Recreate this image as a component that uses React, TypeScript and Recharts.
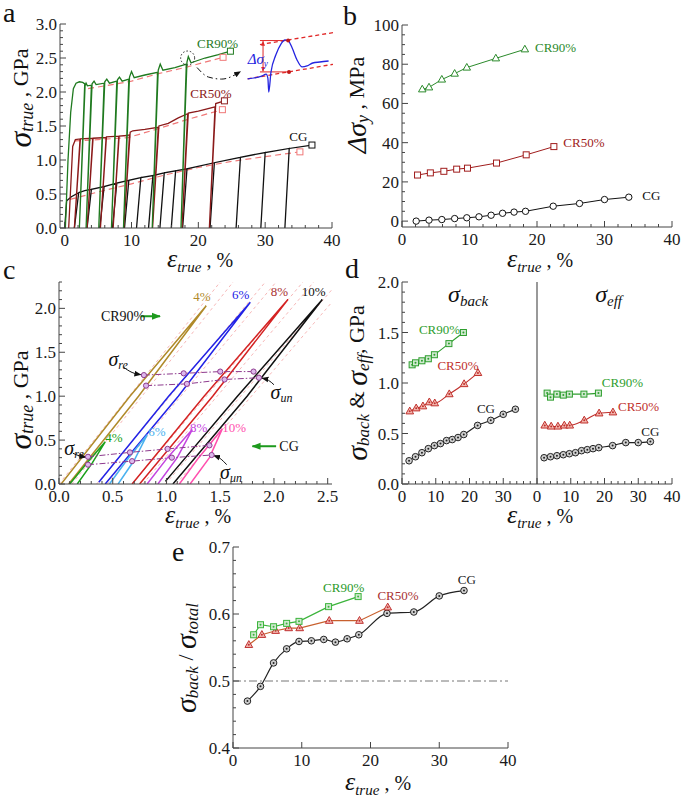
import React from "react";
import { ComposedChart, Line, XAxis, YAxis, ReferenceLine, ReferenceDot } from "recharts";

type Pt = [number, number];

const FONT = '"Liberation Serif", "Times New Roman", serif';

// ---------- shared strain positions of the unloading points (%) ----------
const X_CG = [2.1, 4.0, 5.9, 7.8, 9.6, 11.4, 13.2, 14.9, 16.6, 18.3, 22.4, 26.3, 30.0, 33.6];
const X_CR50 = [2.3, 4.2, 6.2, 8.1, 9.7, 14.0, 18.4, 22.5];
const X_CR90 = [3.0, 4.0, 5.9, 7.8, 9.6, 13.9, 18.2];

// ---------- panel a: loading / unloading curves ----------
const A_CG: Pt[] = [
  [0, 0], [0.3, 0.4], [1.0, 0.46], [2.1, 0.52], [1.45, 0], [2.1, 0.52],
  [3.0, 0.55], [4.0, 0.57], [3.35, 0], [4.0, 0.57],
  [5.9, 0.61], [5.25, 0], [5.9, 0.61],
  [7.8, 0.66], [7.15, 0], [7.8, 0.66],
  [9.6, 0.7], [8.95, 0], [9.6, 0.7],
  [11.4, 0.74], [10.75, 0], [11.4, 0.74],
  [13.2, 0.77], [12.55, 0], [13.2, 0.77],
  [14.9, 0.81], [14.25, 0], [14.9, 0.81],
  [16.6, 0.84], [15.95, 0], [16.6, 0.84],
  [18.3, 0.87], [17.65, 0], [18.3, 0.87],
  [22.4, 0.96], [21.75, 0], [22.4, 0.96],
  [26.3, 1.04], [25.65, 0], [26.3, 1.04],
  [30.0, 1.11], [29.35, 0], [30.0, 1.11],
  [33.6, 1.17], [32.95, 0], [33.6, 1.17],
  [37.0, 1.22],
];
const A_CR50: Pt[] = [
  [0.6, 0], [1.2, 1.2], [1.6, 1.3], [2.3, 1.31], [1.45, 0], [2.35, 1.31],
  [4.2, 1.32], [3.35, 0], [4.25, 1.32],
  [6.2, 1.33], [5.35, 0], [6.25, 1.34],
  [8.1, 1.35], [7.25, 0], [8.15, 1.35], [9.3, 1.36], [9.7, 1.37],
  [8.85, 0], [9.8, 1.41], [10.2, 1.43], [12.0, 1.45], [14.0, 1.48],
  [13.15, 0], [14.1, 1.5], [15.5, 1.54], [17.0, 1.62], [18.4, 1.68],
  [17.55, 0], [18.5, 1.69], [20.0, 1.72], [22.5, 1.78],
  [21.65, 0], [22.6, 1.83], [23.9, 1.87],
];
const A_CR90: Pt[] = [
  [0.1, 0], [0.5, 1.0], [0.9, 1.7], [1.3, 2.05], [1.7, 2.13], [2.2, 2.15], [2.7, 2.14], [3.0, 2.12],
  [2.2, 0], [3.05, 2.09], [3.2, 2.13], [3.4, 2.09], [4.0, 2.1],
  [3.2, 0], [4.1, 2.12], [4.4, 2.16], [4.7, 2.11], [5.9, 2.13],
  [5.1, 0], [6.0, 2.15], [6.3, 2.19], [6.7, 2.13], [7.8, 2.16],
  [7.0, 0], [7.9, 2.18], [8.2, 2.22], [8.6, 2.16], [9.6, 2.19],
  [8.8, 0], [9.7, 2.22], [10.0, 2.3], [10.4, 2.21], [12.0, 2.25], [13.9, 2.29],
  [13.1, 0], [14.0, 2.32], [14.3, 2.41], [14.7, 2.32], [16.5, 2.36], [18.2, 2.41],
  [17.4, 0], [18.3, 2.44], [18.5, 2.52], [18.9, 2.43], [21.0, 2.5], [23.0, 2.55], [24.8, 2.6],
];
const A_CG_FIT: Pt[] = [[0.8, 0.42], [5, 0.53], [10, 0.65], [15, 0.78], [20, 0.89], [25, 0.98], [30, 1.05], [35.2, 1.12]];
const A_CR50_FIT: Pt[] = [[1.5, 1.28], [5, 1.3], [9.5, 1.33], [14, 1.46], [18.5, 1.6], [23.6, 1.74]];
const A_CR90_FIT: Pt[] = [[3.5, 2.05], [6, 2.09], [10, 2.16], [14, 2.27], [18, 2.36], [23.7, 2.51]];
const A_POINTER: Pt[] = [[19.8, 2.36], [21.5, 2.22], [23.5, 2.19], [26.3, 2.3]];

// inset sketch (arbitrary 0-100 units)
const IN_BLUE: Pt[] = [
  [3, 26], [19, 30], [24, 33], [26, 27], [27, 6], [29.5, 36], [35, 62], [41, 79], [45.5, 85],
  [49, 84], [53.5, 73], [59, 55], [65, 44], [70.5, 45.5], [77, 50], [85, 51.5], [95, 53],
];
const IN_UPPER: Pt[] = [[17, 78], [100, 96]];
const IN_LOWER: Pt[] = [[3, 26], [100, 48]];
const IN_TOP: Pt[] = [[17, 84], [49, 84]];
const IN_BOTTOM: Pt[] = [[17, 36.5], [50, 36.5]];
const IN_SPAN: Pt[] = [[20.5, 37.5], [20.5, 83]];

// ---------- panel b: yield drop, MPa ----------
const DSY_CG = [0, 0.5, 0.8, 1.3, 1.7, 2.2, 3.0, 4.0, 4.6, 5.0, 7.6, 9.0, 11.0, 12.2];
const DSY_CR50 = [23.5, 24.6, 25.4, 26.5, 27.0, 29.6, 33.8, 38.0];
const DSY_CR90 = [67.2, 68.2, 72.2, 75.2, 78.3, 83.0, 87.6];

// ---------- panel c: hysteresis loops ----------
const C_LOOP4: Pt[] = [[0.02, 0], [0.66, 1.0], [1.37, 2.03], [0.74, 1.0], [0.09, 0]];
const C_LOOP6: Pt[] = [[0.37, 0.02], [1.02, 1.0], [1.78, 2.07], [1.11, 1.0], [0.43, 0]];
const C_LOOP8: Pt[] = [[0.68, 0], [1.35, 1.0], [2.13, 2.1], [1.43, 1.0], [0.75, 0]];
const C_LOOP10: Pt[] = [[0.99, 0.03], [1.66, 1.0], [2.45, 2.1], [1.75, 1.0], [1.06, 0]];
const C_CG4: Pt[] = [[0.1, 0], [0.26, 0.24], [0.43, 0.48], [0.31, 0.24], [0.17, 0]];
const C_CG6: Pt[] = [[0.47, 0], [0.63, 0.27], [0.82, 0.56], [0.7, 0.27], [0.55, 0]];
const C_CG8: Pt[] = [[0.82, 0], [1.01, 0.3], [1.24, 0.62], [1.1, 0.3], [0.92, 0]];
const C_CG10: Pt[] = [[1.12, 0], [1.3, 0.3], [1.52, 0.63], [1.4, 0.3], [1.22, 0]];
const C_GUIDES: Pt[][] = [
  [[0.0, 0], [1.5, 2.3]], [[0.12, 0], [1.62, 2.3]],
  [[0.35, 0], [1.92, 2.3]], [[0.45, 0], [2.02, 2.3]],
  [[0.68, 0], [2.27, 2.3]], [[0.78, 0], [2.37, 2.3]],
  [[0.99, 0], [2.6, 2.3]], [[1.09, 0], [2.7, 2.3]],
];
const C_RE90: Pt[] = [[0.79, 1.24], [1.16, 1.26], [1.5, 1.28], [1.81, 1.28]];
const C_UN90: Pt[] = [[0.81, 1.12], [1.19, 1.14], [1.54, 1.19], [1.86, 1.21]];
const C_RECG: Pt[] = [[0.27, 0.31], [0.66, 0.36], [1.01, 0.4], [1.4, 0.44]];
const C_UNCG: Pt[] = [[0.27, 0.22], [0.68, 0.26], [1.05, 0.3], [1.42, 0.33]];
const C_ARROW_CR90: Pt[] = [[0.76, 1.91], [0.94, 1.91]];
const C_ARROW_CG: Pt[] = [[2.02, 0.43], [1.8, 0.43]];
const C_PTR_RE_HI: Pt[] = [[0.6, 1.33], [0.68, 1.27], [0.76, 1.245]];
const C_PTR_RE_LO: Pt[] = [[0.13, 0.35], [0.19, 0.32], [0.25, 0.305]];
const C_PTR_UN_HI: Pt[] = [[2.0, 1.13], [1.95, 1.18], [1.89, 1.205]];
const C_PTR_UN_LO: Pt[] = [[1.56, 0.22], [1.5, 0.29], [1.44, 0.325]];

// ---------- panel d: back / effective stress, GPa ----------
const BACK_CG = [0.23, 0.27, 0.31, 0.35, 0.38, 0.4, 0.43, 0.44, 0.46, 0.49, 0.58, 0.63, 0.69, 0.74];
const BACK_CR50 = [0.72, 0.75, 0.77, 0.81, 0.8, 0.89, 0.99, 1.1];
const BACK_CR90 = [1.18, 1.2, 1.22, 1.24, 1.28, 1.39, 1.5];
const EFF_CG = [0.26, 0.27, 0.28, 0.29, 0.3, 0.31, 0.33, 0.34, 0.35, 0.36, 0.38, 0.41, 0.41, 0.42];
const EFF_CR50 = [0.58, 0.57, 0.57, 0.58, 0.58, 0.63, 0.7, 0.71];
const EFF_CR90 = [0.9, 0.86, 0.89, 0.88, 0.89, 0.89, 0.9];

// ---------- panel e: back stress ratio ----------
const RATIO_CG = [0.47, 0.492, 0.527, 0.548, 0.559, 0.56, 0.562, 0.558, 0.563, 0.569, 0.601, 0.603, 0.627, 0.635];
const RATIO_CR50 = [0.554, 0.569, 0.575, 0.579, 0.579, 0.59, 0.59, 0.61];
const RATIO_CR90 = [0.569, 0.584, 0.581, 0.586, 0.589, 0.611, 0.626];

// ---------- helpers ----------
const rows = (a: Pt[]) => a.map(([x, y]) => ({ x, y }));
const zip = (xs: number[], ys: number[], shift = 0) => xs.map((x, i) => ({ x: x + shift, y: ys[i] }));
const seq = (a: number, b: number, s: number) => {
  const r: number[] = [];
  for (let i = 0; a + i * s <= b + 1e-9; i++) r.push(Math.round((a + i * s) * 1000) / 1000);
  return r;
};
const has = (arr: number[], v: number) => arr.some((m) => Math.abs(m - v) < 1e-6);

function tickFn(side: string, major: number[], fmt: (v: number) => string) {
  return (p: any) => {
    const v = p.payload.value;
    const big = has(major, v);
    const n = big ? 6 : 3;
    const { x, y } = p;
    let line;
    let label = null;
    if (side === "bottom") {
      line = <line x1={x} x2={x} y1={y} y2={y - n} />;
      if (big) label = <text x={x} y={y + 18} textAnchor="middle">{fmt(v)}</text>;
    } else if (side === "top") {
      line = <line x1={x} x2={x} y1={y} y2={y + n} />;
    } else if (side === "left") {
      line = <line x1={x} x2={x + n} y1={y} y2={y} />;
      if (big) label = <text x={x - 3} y={y + 6} textAnchor="end">{fmt(v)}</text>;
    } else {
      line = <line x1={x} x2={x - n} y1={y} y2={y} />;
    }
    return (
      <g key={`${side}-${v}`}>
        <g stroke="#444" strokeWidth={1}>{line}</g>
        {label && <g fill="#1a1a1a" fontSize={17} fontFamily={FONT}>{label}</g>}
      </g>
    );
  };
}

interface FrameOpts {
  xd: [number, number];
  yd: [number, number];
  xMaj: number[];
  xMin: number[];
  yMaj: number[];
  yMin: number[];
  xf: (v: number) => string;
  yf: (v: number) => string;
}

function frame(o: FrameOpts) {
  const xt = Array.from(new Set([...o.xMaj, ...o.xMin])).sort((a, b) => a - b);
  const yt = Array.from(new Set([...o.yMaj, ...o.yMin])).sort((a, b) => a - b);
  const axisLine = { stroke: "#444", strokeWidth: 1 };
  return [
    <XAxis key="xb" type="number" dataKey="x" domain={o.xd} allowDataOverflow ticks={xt} interval={0}
      tickSize={0} tickMargin={0} height={30} axisLine={axisLine} tickLine={false} tick={tickFn("bottom", o.xMaj, o.xf)} />,
    <XAxis key="xt" xAxisId="top" orientation="top" type="number" domain={o.xd} allowDataOverflow ticks={xt} interval={0}
      tickSize={0} tickMargin={0} height={0} axisLine={axisLine} tickLine={false} tick={tickFn("top", o.xMaj, o.xf)} />,
    <YAxis key="yl" type="number" domain={o.yd} allowDataOverflow ticks={yt} interval={0}
      tickSize={0} tickMargin={0} width={50} axisLine={axisLine} tickLine={false} tick={tickFn("left", o.yMaj, o.yf)} />,
    <YAxis key="yr" yAxisId="right" orientation="right" type="number" domain={o.yd} allowDataOverflow ticks={yt} interval={0}
      tickSize={0} tickMargin={0} width={0} axisLine={axisLine} tickLine={false} tick={tickFn("right", o.yMaj, o.yf)} />,
  ];
}

interface CurveOpts {
  w?: number;
  dash?: string;
  type?: any;
  dot?: any;
  end?: string;
  start?: string;
}

function curve(key: string, data: { x: number; y: number }[], color: string, o: CurveOpts = {}) {
  return (
    <Line key={key} data={data} dataKey="y" type={o.type ?? "linear"} stroke={color} strokeWidth={o.w ?? 1.3}
      strokeDasharray={o.dash} dot={o.dot ?? false} activeDot={false} isAnimationActive={false}
      legendType="none" markerEnd={o.end} markerStart={o.start} />
  );
}

const marker = (shape: string, stroke: string, fill: string, center?: string, s = 3.5) => (p: any) => {
  const { cx, cy, index } = p;
  if (cx == null || cy == null) return <g key={index} />;
  let body;
  if (shape === "circle") body = <circle cx={cx} cy={cy} r={s} />;
  else if (shape === "square") body = <rect x={cx - s} y={cy - s} width={2 * s} height={2 * s} />;
  else body = <polygon points={`${cx},${cy - s * 1.2} ${cx - s * 1.1},${cy + s * 0.75} ${cx + s * 1.1},${cy + s * 0.75}`} />;
  return (
    <g key={index} stroke={stroke} fill={fill} strokeWidth={1}>
      {body}
      {center && <circle cx={cx} cy={cy} r={1} fill={center} stroke="none" />}
    </g>
  );
};
const lastOnly = (n: number, fn: (p: any) => any) => (p: any) => (p.index === n - 1 ? fn(p) : <g key={p.index} />);

function note(key: string, x: number, y: number, text: string, color: string,
  o: { sub?: string; size?: number; anchor?: string; italic?: boolean; subSize?: number } = {}) {
  const size = o.size ?? 13;
  return (
    <ReferenceDot key={key} x={x} y={y} r={0} ifOverflow="visible"
      shape={(p: any) => (
        <text x={p.cx} y={p.cy} fill={color} fontSize={size} textAnchor={o.anchor ?? "start"} fontFamily={FONT}
          dominantBaseline="central" fontStyle={o.italic ? "italic" : "normal"}>
          <tspan>{text}</tspan>
          {o.sub && <tspan dy={size * 0.3} fontSize={o.subSize ?? size * 0.62}>{o.sub}</tspan>}
        </text>
      )} />
  );
}

const arrowDef = (id: string, color: string, size = 8) => (
  <marker key={id} id={id} viewBox="0 0 10 10" refX={9} refY={5} markerWidth={size} markerHeight={size}
    orient="auto-start-reverse" markerUnits="userSpaceOnUse">
    <path d="M0,1 L10,5 L0,9 z" fill={color} />
  </marker>
);

interface Box { L: number; T: number; W: number; H: number }
const BOX_A: Box = { L: 60, T: 24, W: 272, H: 204 };
const BOX_B: Box = { L: 402, T: 25, W: 270, H: 202 };
const BOX_C: Box = { L: 59, T: 282, W: 273, H: 202 };
const BOX_D: Box = { L: 402, T: 282, W: 270, H: 202 };
const BOX_E: Box = { L: 233, T: 547, W: 275, H: 201 };

const place = (b: Box): React.CSSProperties => ({ position: "absolute", left: b.L - 50, top: b.T - 10 });
const size = (b: Box) => ({ width: b.W + 60, height: b.H + 40, margin: { top: 10, right: 10, bottom: 0, left: 0 } });

const f1 = (v: number) => v.toFixed(1);
const f0 = (v: number) => String(v);

// colours
const GREEN_A = "#1f7a1f";
const RED_A = "#8b1a1a";
const PINK = "#f07878";

function PanelA() {
  return (
    <>
      <div style={place(BOX_A)}>
        <ComposedChart {...size(BOX_A)}>
          <defs>{arrowDef("ahA", "#111", 7)}</defs>
          {frame({ xd: [-0.7, 40], yd: [0, 3], xMaj: seq(0, 40, 10), xMin: seq(0, 40, 2), yMaj: seq(0, 3, 0.5), yMin: seq(0, 3, 0.1), xf: f0, yf: f1 })}
          {curve("cgfit", rows(A_CG_FIT), PINK, { dash: "6 4", w: 1.2, dot: lastOnly(A_CG_FIT.length, marker("square", PINK, "#fff", undefined, 3)) })}
          {curve("c50fit", rows(A_CR50_FIT), PINK, { dash: "6 4", w: 1.2, dot: lastOnly(A_CR50_FIT.length, marker("square", PINK, "#fff", undefined, 3)) })}
          {curve("c90fit", rows(A_CR90_FIT), PINK, { dash: "6 4", w: 1.2, dot: lastOnly(A_CR90_FIT.length, marker("square", PINK, "#fff", undefined, 3)) })}
          {curve("cg", rows(A_CG), "#111", { dot: lastOnly(A_CG.length, marker("square", "#111", "#fff", undefined, 3)) })}
          {curve("c50", rows(A_CR50), RED_A, { dot: lastOnly(A_CR50.length, marker("square", RED_A, "#fff", undefined, 3)) })}
          {curve("c90", rows(A_CR90), GREEN_A, { dot: lastOnly(A_CR90.length, marker("square", GREEN_A, "#fff", undefined, 3)) })}
          {curve("ptr", rows(A_POINTER), "#111", { dash: "6 3 1.5 3", w: 1, type: "monotone", end: "url(#ahA)" })}
          <ReferenceDot x={18.4} y={2.5} r={7} fill="none" stroke="#222" strokeDasharray="1.5 2" />
          {note("l90", 19.8, 2.72, "CR90%", GREEN_A)}
          {note("l50", 18.8, 1.98, "CR50%", RED_A)}
          {note("lcg", 33.6, 1.36, "CG", "#111")}
        </ComposedChart>
      </div>
      <div style={{ position: "absolute", left: 245, top: 30 }}>
        <ComposedChart width={88} height={66} margin={{ top: 0, right: 0, bottom: 0, left: 0 }}>
          <defs>{arrowDef("ahIn", "#e02828", 5)}</defs>
          <XAxis type="number" dataKey="x" domain={[0, 100]} hide allowDataOverflow />
          <YAxis type="number" domain={[0, 100]} hide allowDataOverflow />
          {curve("up", rows(IN_UPPER), "#e02828", { dash: "4 3", w: 1.3 })}
          {curve("lo", rows(IN_LOWER), "#e02828", { dash: "4 3", w: 1.3 })}
          {curve("top", rows(IN_TOP), "#e02828", { w: 1 })}
          {curve("bot", rows(IN_BOTTOM), "#e02828", { w: 1 })}
          {curve("span", rows(IN_SPAN), "#e02828", { w: 1, end: "url(#ahIn)", start: "url(#ahIn)" })}
          {curve("blue", rows(IN_BLUE), "#2424e0", { w: 1.3, type: "monotone" })}
          <ReferenceDot x={49} y={84} r={2} fill="#c01818" stroke="none" />
          <ReferenceDot x={50} y={36.5} r={2} fill="#c01818" stroke="none" />
          {note("dsy", 3, 56, "Δσ", "#2424e0", { sub: "y", size: 15, italic: true })}
        </ComposedChart>
      </div>
    </>
  );
}

function PanelB() {
  const G = "#2b8a2b";
  const R = "#a01c1c";
  return (
    <div style={place(BOX_B)}>
      <ComposedChart {...size(BOX_B)}>
        {frame({ xd: [0, 40], yd: [-3, 100], xMaj: seq(0, 40, 10), xMin: seq(0, 40, 2), yMaj: seq(0, 100, 20), yMin: seq(0, 100, 5), xf: f0, yf: f0 })}
        {curve("cg", zip(X_CG, DSY_CG), "#111", { w: 1, dot: marker("circle", "#111", "#fff", undefined, 3.2) })}
        {curve("c50", zip(X_CR50, DSY_CR50), R, { w: 1, dot: marker("square", R, "#fff", undefined, 3) })}
        {curve("c90", zip(X_CR90, DSY_CR90), G, { w: 1, dot: marker("triangle", G, "#fff", undefined, 3.4) })}
        {note("l90", 19.7, 88.8, "CR90%", G)}
        {note("l50", 23.9, 40.3, "CR50%", R)}
        {note("lcg", 35.6, 13.3, "CG", "#111")}
      </ComposedChart>
    </div>
  );
}

function PanelC() {
  const PURPLE = "#8e3a8e";
  const reDot = marker("circle", PURPLE, "#dcb8ec", undefined, 2.6);
  return (
    <div style={place(BOX_C)}>
      <ComposedChart {...size(BOX_C)}>
        <defs>
          {arrowDef("ahCk", "#111", 7)}
          {arrowDef("ahCg", "#1d9a1d", 9)}
        </defs>
        {frame({ xd: [0, 2.54], yd: [0, 2.3], xMaj: seq(0, 2.5, 0.5), xMin: seq(0, 2.5, 0.1), yMaj: seq(0, 2, 0.5), yMin: seq(0, 2.3, 0.1), xf: f1, yf: f1 })}
        {C_GUIDES.map((g, i) => curve(`g${i}`, rows(g), "#f4a4a4", { dash: "3 3", w: 0.8 }))}
        {curve("l4", rows(C_LOOP4), "#b08a2a", { w: 1.5 })}
        {curve("l6", rows(C_LOOP6), "#2222e6", { w: 1.5 })}
        {curve("l8", rows(C_LOOP8), "#d42222", { w: 1.5 })}
        {curve("l10", rows(C_LOOP10), "#111", { w: 1.5 })}
        {curve("g4", rows(C_CG4), "#1aa01a", { w: 1.5 })}
        {curve("g6", rows(C_CG6), "#4ab2f0", { w: 1.5 })}
        {curve("g8", rows(C_CG8), "#c444e0", { w: 1.5 })}
        {curve("g10", rows(C_CG10), "#ff4fae", { w: 1.5 })}
        {curve("re90", rows(C_RE90), PURPLE, { dash: "6 2 1.5 2", w: 1, dot: reDot })}
        {curve("un90", rows(C_UN90), PURPLE, { dash: "6 2 1.5 2", w: 1, dot: reDot })}
        {curve("recg", rows(C_RECG), PURPLE, { dash: "6 2 1.5 2", w: 1, dot: reDot })}
        {curve("uncg", rows(C_UNCG), PURPLE, { dash: "6 2 1.5 2", w: 1, dot: reDot })}
        {curve("a90", rows(C_ARROW_CR90), "#1d9a1d", { w: 2, end: "url(#ahCg)" })}
        {curve("acg", rows(C_ARROW_CG), "#1d9a1d", { w: 2, end: "url(#ahCg)" })}
        {curve("p1", rows(C_PTR_RE_HI), "#111", { w: 1, type: "monotone", end: "url(#ahCk)" })}
        {curve("p2", rows(C_PTR_RE_LO), "#111", { w: 1, type: "monotone", end: "url(#ahCk)" })}
        {curve("p3", rows(C_PTR_UN_HI), "#111", { w: 1, type: "monotone", end: "url(#ahCk)" })}
        {curve("p4", rows(C_PTR_UN_LO), "#111", { w: 1, type: "monotone", end: "url(#ahCk)" })}
        {note("t4", 1.33, 2.14, "4%", "#b08a2a", { anchor: "middle" })}
        {note("t6", 1.69, 2.16, "6%", "#2222e6", { anchor: "middle" })}
        {note("t8", 2.05, 2.2, "8%", "#a83030", { anchor: "middle" })}
        {note("t10", 2.37, 2.2, "10%", "#111", { anchor: "middle" })}
        {note("s4", 0.51, 0.53, "4%", "#1aa01a", { anchor: "middle" })}
        {note("s6", 0.91, 0.6, "6%", "#4ab2f0", { anchor: "middle" })}
        {note("s8", 1.3, 0.65, "8%", "#c444e0", { anchor: "middle" })}
        {note("s10", 1.63, 0.65, "10%", "#ff4fae", { anchor: "middle" })}
        {note("cr90", 0.39, 1.91, "CR90%", "#111", { size: 14 })}
        {note("cg", 2.05, 0.43, "CG", "#111", { size: 14 })}
        {note("sre1", 0.55, 1.42, "σ", "#111", { sub: "re", size: 20, italic: true, anchor: "middle", subSize: 12 })}
        {note("sre2", 0.14, 0.41, "σ", "#111", { sub: "re", size: 20, italic: true, anchor: "middle", subSize: 12 })}
        {note("sun1", 2.07, 1.05, "σ", "#111", { sub: "un", size: 20, italic: true, anchor: "middle", subSize: 12 })}
        {note("sun2", 1.6, 0.14, "σ", "#111", { sub: "un", size: 20, italic: true, anchor: "middle", subSize: 12 })}
      </ComposedChart>
    </div>
  );
}

function PanelD() {
  const G = "#2e9e2e";
  const R = "#c0302c";
  const K = "#222";
  const dx = (v: number) => String(v >= 40 ? v - 40 : v);
  return (
    <div style={place(BOX_D)}>
      <ComposedChart {...size(BOX_D)}>
        {frame({ xd: [0, 80], yd: [0, 2], xMaj: seq(0, 80, 10), xMin: seq(0, 80, 2), yMaj: seq(0, 2, 0.5), yMin: seq(0, 2, 0.1), xf: dx, yf: f1 })}
        <ReferenceLine x={40} stroke="#555" strokeWidth={1.2} />
        {curve("bcg", zip(X_CG, BACK_CG), K, { w: 1.1, type: "monotone", dot: marker("circle", K, "#cfcfcf", K, 3.3) })}
        {curve("b50", zip(X_CR50, BACK_CR50), R, { w: 1.1, type: "monotone", dot: marker("triangle", R, "#f2b8b0", R, 3.5) })}
        {curve("b90", zip(X_CR90, BACK_CR90), G, { w: 1.1, type: "monotone", dot: marker("square", G, "#cfe9cf", G, 3) })}
        {curve("ecg", zip(X_CG, EFF_CG, 40), K, { w: 1.1, type: "monotone", dot: marker("circle", K, "#cfcfcf", K, 3.3) })}
        {curve("e50", zip(X_CR50, EFF_CR50, 40), R, { w: 1.1, type: "monotone", dot: marker("triangle", R, "#f2b8b0", R, 3.5) })}
        {curve("e90", zip(X_CR90, EFF_CR90, 40), G, { w: 1.1, type: "monotone", dot: marker("square", G, "#cfe9cf", G, 3) })}
        {note("sb", 19.6, 1.88, "σ", "#111", { sub: "back", size: 24, italic: true, anchor: "middle", subSize: 15 })}
        {note("se", 61.2, 1.88, "σ", "#111", { sub: "eff", size: 24, italic: true, anchor: "middle", subSize: 15 })}
        {note("l90", 5.0, 1.53, "CR90%", G)}
        {note("l50", 10.5, 1.18, "CR50%", R)}
        {note("lcg", 22.2, 0.75, "CG", K)}
        {note("r90", 59.2, 1.01, "CR90%", G)}
        {note("r50", 64.0, 0.77, "CR50%", R)}
        {note("rcg", 70.9, 0.52, "CG", K)}
      </ComposedChart>
    </div>
  );
}

function PanelE() {
  const G = "#3cb43c";
  const R = "#c03030";
  const K = "#222";
  return (
    <div style={place(BOX_E)}>
      <ComposedChart {...size(BOX_E)}>
        {frame({ xd: [0, 40], yd: [0.4, 0.7], xMaj: seq(0, 40, 10), xMin: [], yMaj: seq(0.4, 0.7, 0.1), yMin: seq(0.4, 0.7, 0.02), xf: f0, yf: f1 })}
        <ReferenceLine y={0.5} stroke="#777" strokeWidth={1} strokeDasharray="8 3 2 3" />
        {curve("cg", zip(X_CG, RATIO_CG), K, { w: 1.2, type: "monotone", dot: marker("circle", K, "#cfcfcf", K, 3.3) })}
        {curve("c50", zip(X_CR50, RATIO_CR50), "#c8602e", { w: 1.2, dot: marker("triangle", R, "#f2b8b0", R, 3.5) })}
        {curve("c90", zip(X_CR90, RATIO_CR90), G, { w: 1.2, dot: marker("square", G, "#cfe9cf", G, 3) })}
        {note("l90", 13.1, 0.641, "CR90%", "#2a9a2a")}
        {note("l50", 21.0, 0.628, "CR50%", "#a83232")}
        {note("lcg", 32.7, 0.652, "CG", K)}
      </ComposedChart>
    </div>
  );
}

function XTitle({ cx, y }: { cx: number; y: number }) {
  return (
    <text x={cx} y={y} textAnchor="middle" fill="#111">
      <tspan fontStyle="italic" fontSize={26}>ε</tspan>
      <tspan fontStyle="italic" fontSize={15} dy={5}>true</tspan>
      <tspan fontSize={20} dy={-5}>{" , %"}</tspan>
    </text>
  );
}

function YTitle({ cx, cy, children }: { cx: number; cy: number; children: React.ReactNode }) {
  return (
    <text transform={`translate(${cx},${cy}) rotate(-90)`} textAnchor="middle" fill="#111" dominantBaseline="central">
      {children}
    </text>
  );
}

function Overlay() {
  return (
    <svg width={685} height={797} style={{ position: "absolute", left: 0, top: 0, pointerEvents: "none" }} fontFamily={FONT}>
      <g fontSize={28} fill="#111">
        <text x={3} y={22}>a</text>
        <text x={343} y={25}>b</text>
        <text x={3} y={279}>c</text>
        <text x={345} y={278}>d</text>
        <text x={172} y={561}>e</text>
      </g>
      <XTitle cx={200} y={267} />
      <XTitle cx={540} y={267} />
      <XTitle cx={198} y={523} />
      <XTitle cx={540} y={523} />
      <XTitle cx={378} y={790} />
      <YTitle cx={20} cy={98}>
        <tspan fontStyle="italic" fontSize={32}>σ</tspan>
        <tspan fontStyle="italic" fontSize={18} dy={7}>true</tspan>
        <tspan fontSize={22} dy={-7}>{" , GPa"}</tspan>
      </YTitle>
      <YTitle cx={356} cy={105}>
        <tspan fontStyle="italic" fontSize={28}>Δσ</tspan>
        <tspan fontStyle="italic" fontSize={18} dy={7}>y</tspan>
        <tspan fontSize={22} dy={-7}>{" , MPa"}</tspan>
      </YTitle>
      <YTitle cx={20} cy={400}>
        <tspan fontStyle="italic" fontSize={32}>σ</tspan>
        <tspan fontStyle="italic" fontSize={18} dy={7}>true</tspan>
        <tspan fontSize={22} dy={-7}>{" , GPa"}</tspan>
      </YTitle>
      <YTitle cx={356} cy={383}>
        <tspan fontStyle="italic" fontSize={30}>σ</tspan>
        <tspan fontStyle="italic" fontSize={17} dy={7}>back</tspan>
        <tspan fontSize={22} dy={-7}>{" & "}</tspan>
        <tspan fontStyle="italic" fontSize={30}>σ</tspan>
        <tspan fontStyle="italic" fontSize={17} dy={7}>eff</tspan>
        <tspan fontSize={22} dy={-7}>{", GPa"}</tspan>
      </YTitle>
      <YTitle cx={185} cy={658}>
        <tspan fontStyle="italic" fontSize={30}>σ</tspan>
        <tspan fontStyle="italic" fontSize={17} dy={7}>back</tspan>
        <tspan fontSize={22} dy={-7}>{" / "}</tspan>
        <tspan fontStyle="italic" fontSize={30}>σ</tspan>
        <tspan fontStyle="italic" fontSize={17} dy={7}>total</tspan>
      </YTitle>
    </svg>
  );
}

export default function App() {
  return (
    <div style={{ position: "absolute", left: 0, top: 0, width: 685, height: 797, background: "#fff", fontFamily: FONT, overflow: "hidden" }}>
      <PanelA />
      <PanelB />
      <PanelC />
      <PanelD />
      <PanelE />
      <Overlay />
    </div>
  );
}
